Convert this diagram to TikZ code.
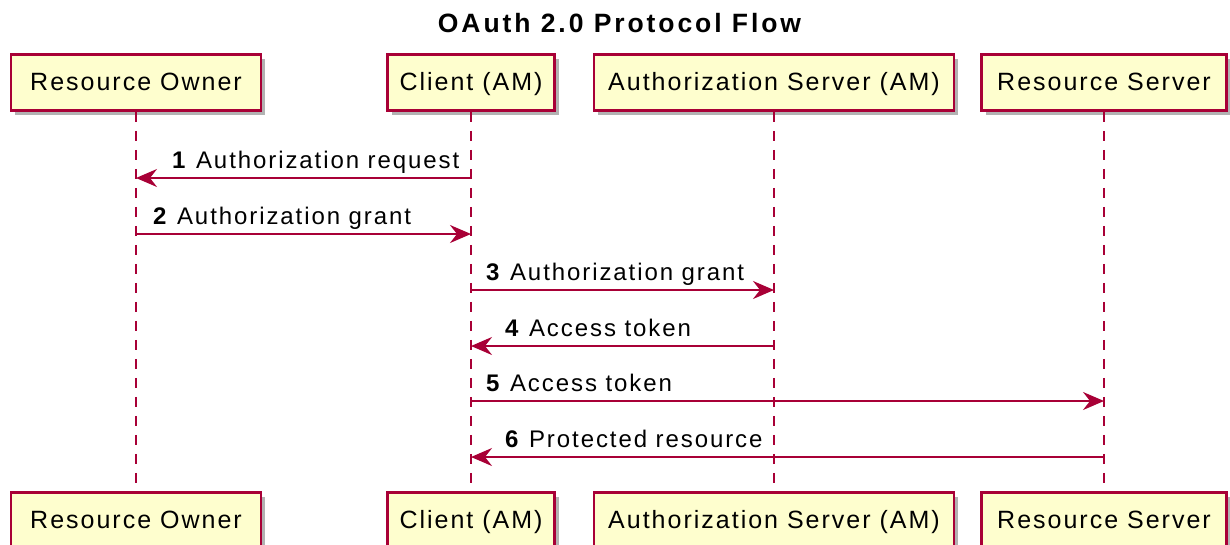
\documentclass[tikz,border=0pt]{standalone}
\usepackage{tikz}
\usepackage{fontspec}
\usetikzlibrary{arrows.meta,shadows}
\newfontfamily\umlfont{Liberation Sans}[LetterSpace=8]
\newfontfamily\umltitle{Liberation Sans}[LetterSpace=11]
\definecolor{umlred}{HTML}{A80036}
\definecolor{umlfill}{HTML}{FEFECE}

\begin{document}
\begin{tikzpicture}[x=1pt,y=-1pt, %% one unit is one pixel of the reference, y down
    part/.style={draw=umlred, line width=2.5pt, fill=umlfill, inner sep=0pt,
        minimum height=56pt, text height=21pt, text depth=4.6pt,
        font=\umlfont\fontsize{25}{30}\selectfont,
        drop shadow={shadow xshift=4pt, shadow yshift=-4pt, opacity=.3, fill=black}},
    life/.style={umlred, line width=1.5pt, dash pattern=on 10pt off 9pt},
    msg/.style={umlred, line width=2pt, -{Stealth[length=21pt,width=18pt,inset=7pt]}},
    lbl/.style={anchor=base west, inner sep=0pt, font=\umlfont\fontsize{24}{28}\selectfont}]
            \useasboundingbox (0,0) rectangle (1230,544);

            \node[anchor=base, font=\umltitle\bfseries\fontsize{26.5}{30}\selectfont] (title) at (619.5,32.7) {OAuth 2.0 Protocol Flow};

            \foreach \n/\x/\w/\t in {ro/136/250/Resource Owner, cl/471/167/Client (AM), as/774/360/Authorization Server (AM), rs/1104/245/Resource Server}
            {
                \node[part, minimum width=\w pt] (\n-top) at (\x,82.5) {\t};
                \node[part, minimum width=\w pt] (\n-bot) at (\x,520.5) {\t};
                \draw[life] (\n-top) -- (\n-bot);
            }

            \draw[msg] (cl-top |- 0,178) -- (ro-top |- 0,178);
            \draw[msg] (ro-top |- 0,234) -- (cl-top |- 0,234);
            \draw[msg] (cl-top |- 0,290) -- (as-top |- 0,290);
            \draw[msg] (as-top |- 0,346) -- (cl-top |- 0,346);
            \draw[msg] (cl-top |- 0,401) -- (rs-top |- 0,401);
            \draw[msg] (rs-top |- 0,457) -- (cl-top |- 0,457);

            \node[lbl] (m1) at (172,168.5) {\textbf{1} Authorization request};
            \node[lbl] (m2) at (153,224.5) {\textbf{2} Authorization grant};
            \node[lbl] (m3) at (486,280.5) {\textbf{3} Authorization grant};
            \node[lbl] (m4) at (505,336.5) {\textbf{4} Access token};
            \node[lbl] (m5) at (486,391.5) {\textbf{5} Access token};
            \node[lbl] (m6) at (505,447.5) {\textbf{6} Protected resource};
\end{tikzpicture}
\end{document}
